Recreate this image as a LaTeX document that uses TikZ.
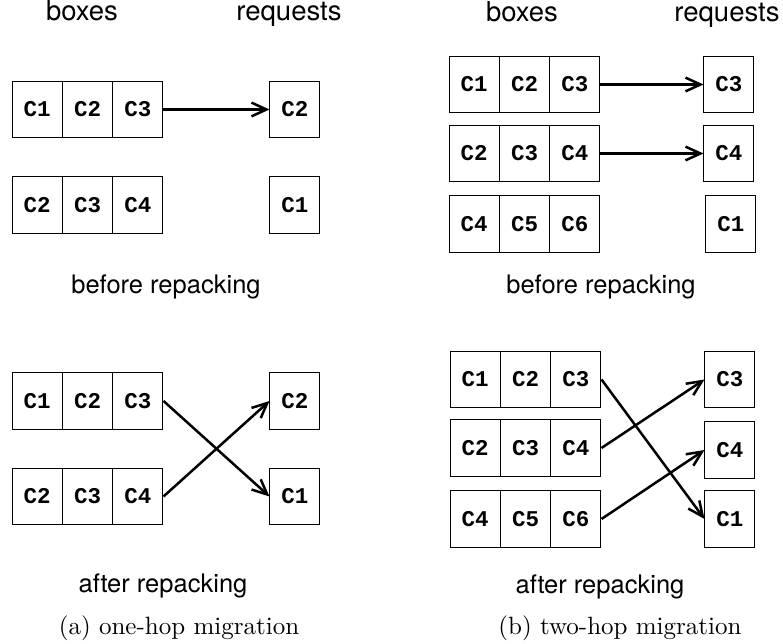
\documentclass[tikz,border=0pt]{standalone}
\usepackage{fontspec}
\setsansfont{TeX Gyre Heros}
\setmonofont{Liberation Mono}
\usetikzlibrary{arrows.meta}

\begin{document}
\begin{tikzpicture}[x=0.4pt,y=-0.4pt,>={Straight Barb[length=6pt,width=5.5pt]}]
			\tikzstyle{cell} = [draw=black,line width=0.4pt,minimum width=20pt,minimum height=22.6pt,inner sep=0pt,font=\ttfamily\bfseries\fontsize{9}{10}\selectfont];
			\tikzstyle{head} = [anchor=base,inner sep=0pt,font=\sffamily\fontsize{11}{13}\selectfont];
			\tikzstyle{lbl} = [anchor=base,inner sep=0pt,font=\sffamily\fontsize{10.2}{12}\selectfont];
			\tikzstyle{subcap} = [anchor=base,inner sep=0pt,font=\fontsize{10}{12}\selectfont];
			\tikzstyle{move} = [->,line width=1pt];
			\useasboundingbox (0,0) rectangle (783,644);
			% (a) one-hop, before
			\node[head] (ahb) at (82, 21) {boxes};
			\node[head] (ahr) at (289, 21) {requests};
			\node[cell] (a11) at (37.2, 109.5) {C1};
			\node[cell] (a12) at (87.6, 109.5) {C2};
			\node[cell] (a13) at (138, 109.5) {C3};
			\node[cell] (a21) at (37.2, 205) {C2};
			\node[cell] (a22) at (87.6, 205) {C3};
			\node[cell] (a23) at (138, 205) {C4};
			\node[cell] (ar1) at (295, 109.5) {C2};
			\node[cell] (ar2) at (295, 205) {C1};
			\node[lbl] (abl) at (166, 294) {before repacking};
			\draw[move] (a13) -- (ar1);
			% (a) one-hop, after
			\node[cell] (b11) at (37.2, 401) {C1};
			\node[cell] (b12) at (87.6, 401) {C2};
			\node[cell] (b13) at (138, 401) {C3};
			\node[cell] (b21) at (37.2, 496.5) {C2};
			\node[cell] (b22) at (87.6, 496.5) {C3};
			\node[cell] (b23) at (138, 496.5) {C4};
			\node[cell] (br1) at (295, 401) {C2};
			\node[cell] (br2) at (295, 496.5) {C1};
			\node[lbl] (bbl) at (163, 593) {after repacking};
			\draw[move] (b13.east) -- (br2.west);
			\draw[move] (b23.east) -- (br1.west);
			\node[subcap] (acap) at (179, 635) {(a) one-hop migration};
			% (b) two-hop, before
			\node[head] (chb) at (522, 22) {boxes};
			\node[head] (chr) at (727, 22) {requests};
			\node[cell] (c11) at (474.2, 84.5) {C1};
			\node[cell] (c12) at (524.6, 84.5) {C2};
			\node[cell] (c13) at (575, 84.5) {C3};
			\node[cell] (c21) at (474.2, 153.5) {C2};
			\node[cell] (c22) at (524.6, 153.5) {C3};
			\node[cell] (c23) at (575, 153.5) {C4};
			\node[cell] (c31) at (474.2, 224) {C4};
			\node[cell] (c32) at (524.6, 224) {C5};
			\node[cell] (c33) at (575, 224) {C6};
			\node[cell] (cr1) at (729, 84.5) {C3};
			\node[cell] (cr2) at (729, 153.5) {C4};
			\node[cell] (cr3) at (731, 224) {C1};
			\node[lbl] (cbl) at (601, 294) {before repacking};
			\draw[move] (c13) -- (cr1);
			\draw[move] (c23) -- (cr2);
			% (b) two-hop, after
			\node[cell] (d11) at (475.2, 379.5) {C1};
			\node[cell] (d12) at (525.6, 379.5) {C2};
			\node[cell] (d13) at (576, 379.5) {C3};
			\node[cell] (d21) at (475.2, 448) {C2};
			\node[cell] (d22) at (525.6, 448) {C3};
			\node[cell] (d23) at (576, 448) {C4};
			\node[cell] (d31) at (475.2, 519) {C4};
			\node[cell] (d32) at (525.6, 519) {C5};
			\node[cell] (d33) at (576, 519) {C6};
			\node[cell] (dr1) at (730, 379.5) {C3};
			\node[cell] (dr2) at (730, 450) {C4};
			\node[cell] (dr3) at (730, 519) {C1};
			\node[lbl] (dbl) at (600, 594) {after repacking};
			\draw[move] (d13.east) -- (dr3.west);
			\draw[move] (d23.east) -- (dr1.west);
			\draw[move] (d33.east) -- (dr2.west);
			\node[subcap] (bcap) at (620, 635) {(b) two-hop migration};
		\end{tikzpicture}
\end{document}
